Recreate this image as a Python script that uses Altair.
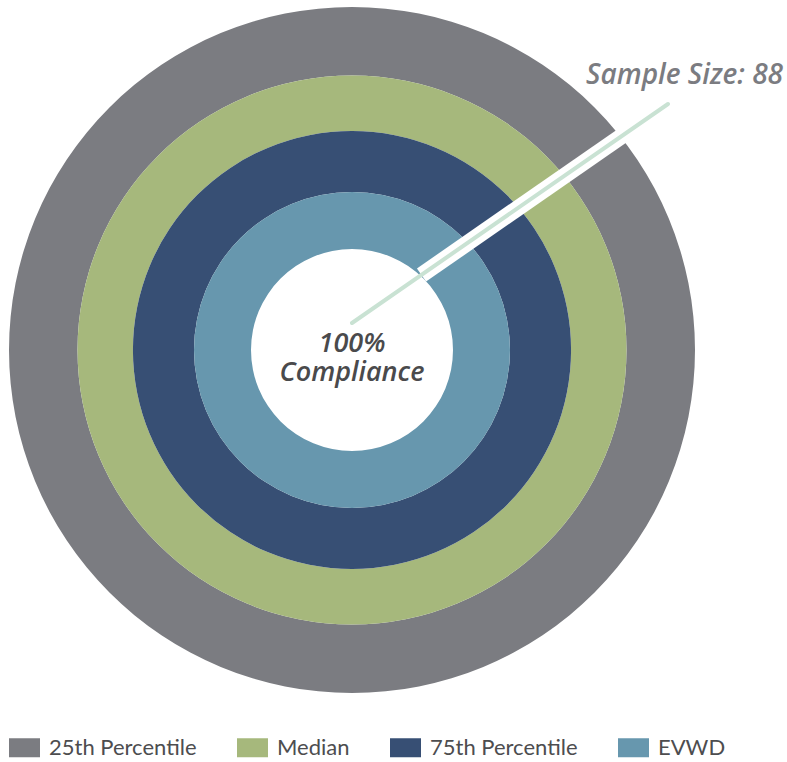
import math
import altair as alt
import pandas as pd

# ---- data ----
categories = ["25th Percentile", "Median", "75th Percentile", "EVWD"]
outer_r = [343, 274.5, 219, 158]
inner_r = [274.5, 219, 158, 101]
colors = ["#7b7c81", "#a6b87c", "#374f74", "#6797ae"]

center_label = ["100%", "Compliance"]
sample_label = ["Sample Size: 88"]

# annotation leader (plot coordinates, y measured from top)
leader_x = [352, 668]
leader_y = [323, 104]
band_x = [421.5, 668]
band_y = [275, 104]

CX, CY = 352, 350
W, H = 787, 762

xs = alt.Scale(domain=[0, W], range=[0, W])
ys = alt.Scale(domain=[0, H], range=[0, H])
rs = alt.Scale(type="linear", domain=[0, 343], range=[0, 343], zero=True)

rings = pd.DataFrame({
    "name": categories, "outer": outer_r, "inner": inner_r,
    "cx": [CX] * 4, "cy": [CY] * 4, "ord": list(range(4)),
})

rect_path = "M-1,-0.613H1V0.613H-1Z"

ring_layer = alt.Chart(rings).mark_arc(theta=0, theta2=math.tau, stroke=None).encode(
    x=alt.X("cx:Q", scale=xs, axis=None),
    y=alt.Y("cy:Q", scale=ys, axis=None),
    radius=alt.Radius("outer:Q", scale=rs),
    radius2=alt.Radius2("inner:Q"),
    color=alt.Color(
        "name:N",
        scale=alt.Scale(domain=categories, range=colors),
        legend=alt.Legend(
            title=None, orient="none", legendX=9, legendY=732,
            direction="horizontal", symbolType=rect_path, symbolSize=961,
            symbolStrokeWidth=0, symbolOpacity=1, labelFont="Lato",
            labelFontSize=22, labelColor="#4d4d4f", labelOffset=9,
            columnPadding=40, labelLimit=300,
        ),
    ),
    order=alt.Order("ord:Q"),
)

band_df = pd.DataFrame({"x": [band_x[0]], "y": [band_y[0]], "x2": [band_x[1]], "y2": [band_y[1]]})
band = alt.Chart(band_df).mark_rule(color="white", strokeWidth=16, strokeCap="butt").encode(
    x=alt.X("x:Q", scale=xs), y=alt.Y("y:Q", scale=ys), x2="x2:Q", y2="y2:Q"
)

lead_df = pd.DataFrame({"x": [leader_x[0]], "y": [leader_y[0]], "x2": [leader_x[1]], "y2": [leader_y[1]]})
lead = alt.Chart(lead_df).mark_rule(color="#c9e2d3", strokeWidth=4, strokeCap="round").encode(
    x=alt.X("x:Q", scale=xs), y=alt.Y("y:Q", scale=ys), x2="x2:Q", y2="y2:Q"
)

center_df = pd.DataFrame({"t": ["\n".join(center_label)], "x": [CX], "y": [352]})
center_text = alt.Chart(center_df).mark_text(
    font="Open Sans", fontStyle="italic", fontWeight=600, fontSize=27,
    color="#4a4a4c", align="center", baseline="alphabetic",
    lineBreak="\n", lineHeight=29,
).encode(x=alt.X("x:Q", scale=xs), y=alt.Y("y:Q", scale=ys), text="t:N")

sample_df = pd.DataFrame({"t": sample_label, "x": [783], "y": [84]})
sample_text = alt.Chart(sample_df).mark_text(
    font="Open Sans", fontStyle="italic", fontWeight=600, fontSize=28,
    color="#7b7c81", align="right", baseline="alphabetic",
).encode(x=alt.X("x:Q", scale=xs), y=alt.Y("y:Q", scale=ys), text="t:N")

chart = alt.layer(ring_layer, band, lead, center_text, sample_text).properties(
    width=W, height=H, padding=0, autosize=alt.AutoSizeParams(type="none"),
    background="white",
).configure_view(stroke=None)

chart.save("out.html", embed_options={"renderer": "svg", "actions": False})
